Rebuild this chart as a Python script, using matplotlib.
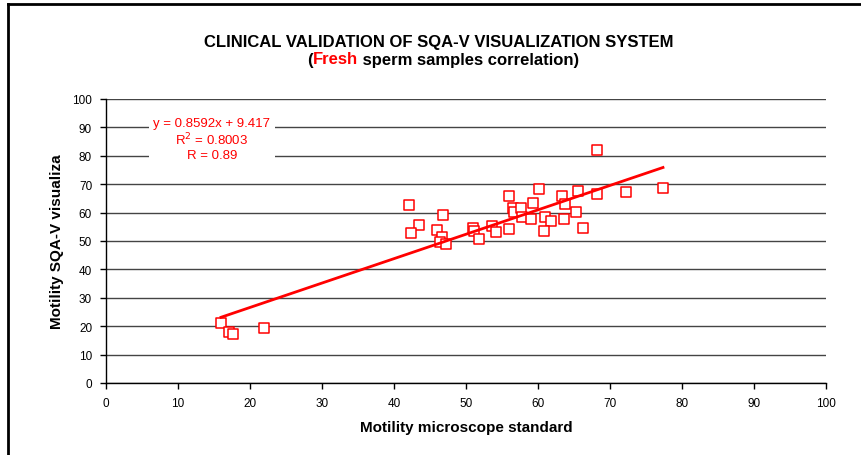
import matplotlib
matplotlib.use("Agg")
from matplotlib import pyplot as plt
from matplotlib.lines import Line2D
import numpy as np

# Motility readings: microscope standard (x) vs SQA-V visualization (y)
microscope = [15.97, 17.08, 17.64, 21.94, 42.08, 46.81, 43.47, 42.36, 45.97, 46.67,
              46.39, 47.22, 50.97, 51.11, 51.81, 53.61, 54.17, 55.97, 55.97, 56.53,
              56.67, 57.64, 57.78, 59.03, 59.31, 60.14, 68.19, 65.56, 63.33, 68.19,
              72.22, 77.36, 63.75, 65.28, 60.97, 61.81, 63.61, 60.83, 66.25]
sqa_v = [21.1, 18.0, 17.3, 19.4, 62.7, 59.2, 55.6, 52.8, 53.9, 51.4,
         49.6, 48.9, 54.6, 53.5, 50.7, 55.3, 53.2, 65.8, 54.2, 61.6,
         60.2, 61.6, 58.5, 57.7, 63.4, 68.3, 82.0, 67.6, 65.8, 66.5,
         67.3, 68.7, 63.0, 60.2, 58.5, 57.0, 57.9, 53.5, 54.6]

slope = 0.8592
intercept = 9.417
r2 = 0.8003
r = 0.89

ticks = [0, 10, 20, 30, 40, 50, 60, 70, 80, 90, 100]

plt.rcParams['font.family'] = ['Liberation Sans', 'DejaVu Sans']

fig = plt.figure(figsize=(8.62, 4.56), dpi=100)
fig.patch.set_facecolor('white')
ax = fig.add_axes([106 / 862, 1 - 384 / 456, 720 / 862, 284 / 456])

ax.scatter(microscope, sqa_v, marker='s', s=50, facecolors='white',
           edgecolors='#ff0000', linewidths=1.1, zorder=3)

xs = np.array([min(microscope), max(microscope)])
ax.plot(xs, slope * xs + intercept, color='#ff0000', lw=2, zorder=4)

ax.set_xlim(0, 100)
ax.set_ylim(0, 100)
ax.set_xticks(ticks)
ax.set_yticks(ticks)
ax.grid(axis='y', color='#444444', lw=1)
ax.set_axisbelow(True)
for s in ['top', 'right']:
    ax.spines[s].set_visible(False)
for s in ['left', 'bottom']:
    ax.spines[s].set_color('black')
    ax.spines[s].set_linewidth(1)
ax.tick_params(direction='out', length=4, width=1, labelsize=8.5, pad=6,
               colors='black')

ax.set_xlabel('Motility microscope standard', fontsize=11, fontweight='bold',
              labelpad=8)
ax.set_ylabel('Motility SQA-V visualiza', fontsize=11, fontweight='bold',
              labelpad=6)

eq = 'y = %.4fx + %.3f\nR$^2$ = %.4f\nR = %.2f' % (slope, intercept, r2, r)
ax.text(14.7, 85.9, eq, color='#ff0000', fontsize=9.5, ha='center', va='center',
        linespacing=1.15, zorder=5,
        bbox=dict(facecolor='white', edgecolor='none', pad=3))

# title
fig.text(439 / 862, 1 - 43 / 456, 'CLINICAL VALIDATION OF SQA-V VISUALIZATION SYSTEM',
         ha='center', va='center', fontsize=12, fontweight='bold')
parts = [('(', 'black'), ('Fresh', '#ff0000'), (' sperm samples correlation)', 'black')]
texts = [fig.text(0, 1 - 60 / 456, p, color=c, fontsize=12, fontweight='bold',
                  va='center', ha='left') for p, c in parts]
fig.canvas.draw()
rend = fig.canvas.get_renderer()
widths = [t.get_window_extent(rend).width for t in texts]
x0 = 443 - sum(widths) / 2
for t, w in zip(texts, widths):
    t.set_x(x0 / 862)
    x0 += w

# frame lines
fig.add_artist(Line2D([8 / 862, 8 / 862], [0, 1 - 5 / 456], color='black', lw=2))
fig.add_artist(Line2D([8 / 862, 1], [1 - 5 / 456, 1 - 5 / 456], color='black', lw=2))

fig.savefig('out.png', dpi=100)
